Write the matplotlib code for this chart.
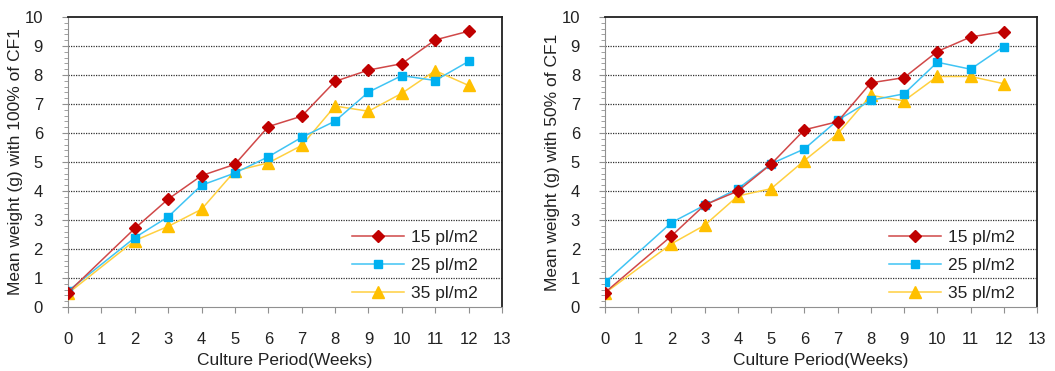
import matplotlib
matplotlib.use('Agg')
import matplotlib.pyplot as plt
import numpy as np
from matplotlib.ticker import MultipleLocator

weeks = [0, 2, 3, 4, 5, 6, 7, 8, 9, 10, 11, 12]
series_labels = ['15 pl/m2', '25 pl/m2', '35 pl/m2']

# mean weight (g) with 100% of CF1
full_15 = [0.50, 2.71, 3.72, 4.53, 4.92, 6.22, 6.58, 7.78, 8.17, 8.39, 9.21, 9.51]
full_25 = [0.55, 2.39, 3.11, 4.20, 4.62, 5.18, 5.85, 6.41, 7.41, 7.98, 7.81, 8.47]
full_35 = [0.47, 2.29, 2.78, 3.37, 4.69, 4.97, 5.57, 6.93, 6.75, 7.37, 8.15, 7.64]

# mean weight (g) with 50% of CF1
half_15 = [0.50, 2.45, 3.52, 4.00, 4.93, 6.11, 6.39, 7.73, 7.91, 8.81, 9.31, 9.50]
half_25 = [0.85, 2.91, 3.51, 4.08, 4.94, 5.45, 6.44, 7.13, 7.35, 8.44, 8.20, 8.98]
half_35 = [0.48, 2.18, 2.82, 3.83, 4.08, 5.05, 5.97, 7.30, 7.11, 7.95, 7.95, 7.70]

colors = ['#C00000', '#00B0F0', '#FFC000']
line_colors = ['#D04848', '#40C4F4', '#FFD040']
markers = ['D', 's', '^']
msizes = [6.5, 6.0, 8.0]

plt.rcParams['font.family'] = ['Liberation Sans', 'DejaVu Sans']

fig = plt.figure(figsize=(10.55, 3.71), dpi=100)
ax1 = fig.add_axes([68/1055, 1-307/371, 434/1055, 290/371])
ax2 = fig.add_axes([605/1055, 1-307/371, 432/1055, 290/371])

panels = [(ax1, [full_15, full_25, full_35], 'Mean weight (g) with 100% of CF1', 0.655),
          (ax2, [half_15, half_25, half_35], 'Mean weight (g) with 50% of CF1', 0.658)]

for ax, data, ylab, leg_x in panels:
    for i, vals in enumerate(data):
        ax.plot(weeks, vals, color=line_colors[i], lw=1.1, marker=markers[i],
                markersize=msizes[i], markerfacecolor=colors[i],
                markeredgecolor=colors[i], label=series_labels[i], zorder=3 + (2 - i) * 0.1 if i else 3.5)
    ax.set_xlim(0, 13)
    ax.set_ylim(0, 10)
    ax.xaxis.set_major_locator(MultipleLocator(1))
    ax.yaxis.set_major_locator(MultipleLocator(1))
    ax.yaxis.set_minor_locator(MultipleLocator(0.2))
    for v in range(1, 10):
        ax.axhline(v, color='#303030', lw=0.9, ls=(0, (1, 1)), zorder=1)
    ax.spines['top'].set_color('#202020')
    ax.spines['right'].set_color('#202020')
    ax.spines['top'].set_linewidth(1.3)
    ax.spines['right'].set_linewidth(1.3)
    ax.spines['left'].set_color('#909090')
    ax.spines['bottom'].set_color('#909090')
    ax.tick_params(axis='x', direction='out', length=4, color='#909090',
                   labelsize=12, pad=14, labelcolor='#222222')
    ax.tick_params(axis='y', which='major', direction='out', length=4, color='#909090',
                   labelsize=12, pad=14, labelcolor='#222222')
    ax.tick_params(axis='y', which='minor', direction='out', length=3, color='#909090')
    ax.set_xlabel('Culture Period(Weeks)', fontsize=12.5, color='#222222', labelpad=4)
    ax.set_ylabel(ylab, fontsize=12.5, color='#222222', labelpad=1)
    ax.legend(loc='lower left', bbox_to_anchor=(leg_x, 0.02), frameon=False,
              fontsize=12.5, handlelength=3.0, handletextpad=0.4, labelspacing=0.75,
              borderpad=0, borderaxespad=0, labelcolor='#222222')

fig.savefig('out.png', dpi=100)
